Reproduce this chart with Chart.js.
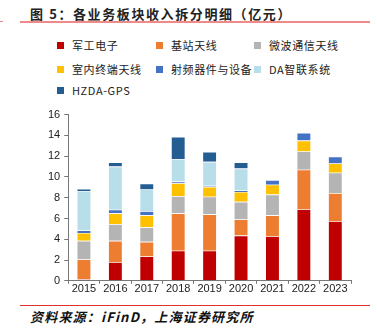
<!DOCTYPE html>
<html>
<head>
<meta charset="utf-8">
<script src="https://cdn.jsdelivr.net/npm/chart.js@4/dist/chart.umd.min.js"></script>
<style>
  body { margin: 0; width: 377px; height: 332px; background: #fff; position: relative; overflow: hidden; font-family: "Liberation Sans", Arial, sans-serif; }
  #title { position: absolute; left: 30px; top: 4px; font: bold 13px "Noto Sans CJK SC", sans-serif; color: #222; letter-spacing: 1.6px; }
  #topline { position: absolute; left: 20px; top: 21px; width: 350px; height: 2px; background: #f08a8a; }
  #topmark { position: absolute; left: 0; top: 21px; width: 3px; height: 1px; background: #f08a8a; }
  #legend { position: absolute; left: 57px; top: 37px; width: 320px; }
  .item { position: absolute; font: 11px "Noto Sans CJK SC", sans-serif; color: #222; white-space: nowrap; letter-spacing: 0.6px; }
  .item span.box { display: inline-block; width: 7px; height: 7px; margin-right: 8px; vertical-align: 1px; }
  #chartWrap { position: absolute; left: 0; top: 104px; width: 377px; height: 191px; }
  #botline { position: absolute; left: 20px; top: 305px; width: 350px; height: 1px; background: #e03030; }
  #source { position: absolute; left: 30px; top: 307px; font: italic bold 13px "Noto Sans CJK SC", sans-serif; color: #111; letter-spacing: 1.2px; }
</style>
</head>
<body>
<div id="title">图 5：各业务板块收入拆分明细（亿元）</div>
<div id="topmark"></div>
<div id="topline"></div>
<div id="legend"></div>
<div id="chartWrap"><canvas id="chartContainer" width="377" height="191"></canvas></div>
<div id="botline"></div>
<div id="source">资料来源：iFinD，上海证券研究所</div>
<script>
const years = ['2015', '2016', '2017', '2018', '2019', '2020', '2021', '2022', '2023'];
const seriesNames = ['军工电子', '基站天线', '微波通信天线', '室内终端天线', '射频器件与设备', 'DA智联系统', 'HZDA-GPS'];
const seriesColors = ['#c00000', '#ed7d31', '#b4b4b4', '#ffc000', '#4472c4', '#b8dfe9', '#245d92'];

const junGong   = [0.15, 1.80, 2.35, 2.90, 2.90, 4.35, 4.30, 6.90, 5.75];
const jiZhan    = [1.90, 2.05, 1.40, 3.60, 3.50, 1.55, 2.00, 3.80, 2.70];
const weiBo     = [1.80, 1.60, 1.40, 1.65, 1.70, 1.70, 2.00, 1.75, 1.95];
const shiNei    = [0.75, 1.05, 1.15, 1.25, 0.95, 0.95, 0.95, 1.05, 0.90];
const shePin    = [0.25, 0.35, 0.40, 0.15, 0.10, 0.15, 0.45, 0.75, 0.65];
const daZhiLian = [3.80, 4.15, 2.10, 2.15, 2.30, 2.10, 0, 0, 0];
const hzdaGps   = [0.20, 0.40, 0.55, 2.15, 0.95, 0.60, 0, 0, 0];

const yTicks = [0, 2, 4, 6, 8, 10, 12, 14, 16];

const allSeries = [junGong, jiZhan, weiBo, shiNei, shePin, daZhiLian, hzdaGps];

// legend, three columns
const legendPos = [[0, 0], [99, 0], [197, 0], [0, 24], [99, 24], [197, 24], [0, 45]];
const legendEl = document.getElementById('legend');
seriesNames.forEach((name, i) => {
    const d = document.createElement('div');
    d.className = 'item';
    d.style.left = legendPos[i][0] + 'px';
    d.style.top = legendPos[i][1] + 'px';
    d.innerHTML = '<span class="box" style="background:' + seriesColors[i] + '"></span>' + name;
    legendEl.appendChild(d);
});

const ctx = document.getElementById('chartContainer').getContext('2d');
new Chart(ctx, {
    type: 'bar',
    data: {
        labels: years,
        datasets: allSeries.map((vals, i) => ({
            label: seriesNames[i],
            data: vals,
            backgroundColor: seriesColors[i],
            borderColor: 'rgba(255,255,255,0.6)',
            borderWidth: 0.6,
            barPercentage: 0.9,
            categoryPercentage: 0.5
        }))
    },
    options: {
        responsive: false,
        animation: false,
        layout: { padding: { left: 44, right: 26, top: 6, bottom: 0 } },
        plugins: { legend: { display: false }, tooltip: { enabled: false } },
        scales: {
            x: {
                stacked: true,
                grid: { drawOnChartArea: false, color: '#777', tickLength: 3 },
                border: { color: '#777' },
                ticks: { color: '#222', font: { family: 'Liberation Sans', size: 11 }, maxRotation: 0, autoSkip: false, padding: -1 }
            },
            y: {
                stacked: true,
                min: 0,
                max: 16,
                afterBuildTicks: axis => { axis.ticks = yTicks.map(v => ({ value: v })); },
                grid: { drawOnChartArea: false, color: '#777', tickLength: 4 },
                border: { color: '#777' },
                ticks: { color: '#222', font: { family: 'Liberation Sans', size: 11 }, padding: 4 }
            }
        }
    }
});
</script>
</body>
</html>
